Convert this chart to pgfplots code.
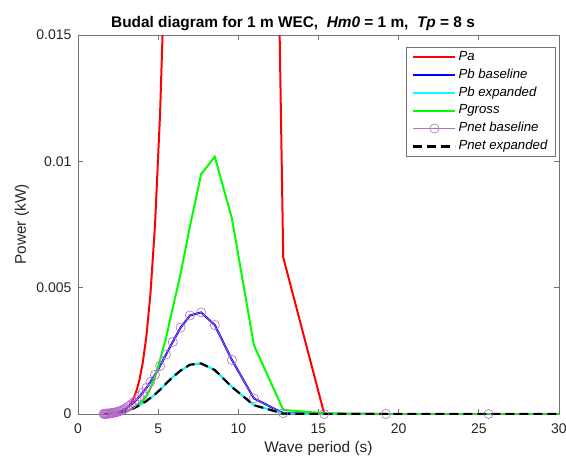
\documentclass[border=0pt]{standalone}
\usepackage{fontspec}
\setmainfont{Liberation Sans}
\usepackage{pgfplots}
\pgfplotsset{compat=1.18}
\usepackage{pgfplotstable}

\definecolor{pnetc}{rgb}{0.72,0.42,0.78}
\definecolor{axc}{rgb}{0.45,0.45,0.45}
\definecolor{cyanc}{rgb}{0,1,1}
\definecolor{greenc}{rgb}{0,1,0}
\definecolor{redc}{rgb}{1,0,0}
\definecolor{bluec}{rgb}{0,0,1}

\pgfplotstableread{
T        Pa         Pb        Pbx        Pg
1.600    0.0000008  0.000005  0.0000025  0.000002
1.634    0.000001   0.000006  0.000003   0.0000025
1.669    0.0000012  0.000007  0.0000035  0.000003
1.707    0.0000015  0.000008  0.000004   0.0000035
1.745    0.000002   0.000009  0.0000045  0.000004
1.786    0.0000025  0.000011  0.0000055  0.000005
1.829    0.000003   0.000013  0.0000065  0.000006
1.873    0.000004   0.000016  0.000008   0.000007
1.920    0.000005   0.000019  0.0000095  0.000008
1.969    0.000006   0.000022  0.000011   0.00001
2.021    0.000008   0.000026  0.000013   0.000012
2.076    0.00001    0.000031  0.0000155  0.000014
2.133    0.000013   0.000037  0.0000185  0.000016
2.194    0.000017   0.000044  0.000022   0.000018
2.259    0.000021   0.000052  0.000026   0.00002
2.327    0.000027   0.000062  0.000031   0.000022
2.400    0.000034   0.000074  0.000037   0.000024
2.477    0.000044   0.000088  0.000044   0.00003
2.560    0.000057   0.000105  0.0000525  0.000038
2.648    0.000074   0.000125  0.0000625  0.000048
2.743    0.000098   0.00015   0.000075   0.00006
2.844    0.00013    0.00018   0.00009    0.000075
2.954    0.000176   0.00022   0.00011    0.000095
3.072    0.00024    0.00027   0.000135   0.00012
3.200    0.000331   0.00032   0.00016    0.000155
3.339    0.000462   0.00039   0.000195   0.0002
3.491    0.000655   0.00047   0.000235   0.00026
3.657    0.00094    0.00057   0.000285   0.00034
3.840    0.00137    0.0007    0.00035    0.00042
4.042    0.00204    0.00085   0.000425   0.00053
4.267    0.00308    0.00103   0.000515   0.0007
4.518    0.00475    0.00127   0.000635   0.00102
4.800    0.00744    0.00155   0.000775   0.00145
5.120    0.01189    0.0019    0.00096    0.00215
5.486    0.01933    0.00235   0.0012     0.003
5.908    0.0318     0.00285   0.00146    0.0042
6.400    0.0524     0.00342   0.00172    0.00555
6.982    0.0849     0.0039    0.00195    0.00743
7.680    0.130      0.00402   0.002      0.00949
8.533    0.1731     0.00352   0.00174    0.01018
9.600    0.1677     0.00214   0.00107    0.00774
10.971   0.0784     0.00062   0.00035    0.00273
12.800   0.0062     0.00003   0.000015   0.00016
15.360   0.000004   0         0          0.00003
19.200   0          0         0          0
25.600   0          0         0          0
38.400   0          0         0          0
76.800   0          0         0          0
}\data

\begin{document}
\begin{tikzpicture}
\path[use as bounding box] (0,0) rectangle (566pt,459pt);
\begin{axis}[
  at={(78pt,45pt)}, anchor=south west,
  width=481pt, height=379pt, scale only axis,
  xmin=0, xmax=30, ymin=0, ymax=0.015,
  xtick={0,5,...,30},
  ytick={0,0.005,0.01,0.015},
  scaled y ticks=false,
  yticklabel style={/pgf/number format/fixed,/pgf/number format/precision=3, xshift=-3pt},
  xticklabel style={yshift=-6pt},
  /pgf/number format/assume math mode=true,
  ticklabel style={font=\fontsize{14}{16}\selectfont, text=black!85},
  tick align=inside,
  major tick length=5pt,
  tick style={axc, line width=0.7pt},
  axis line style={axc, line width=0.8pt},
  title={\textbf{Budal diagram for 1 m WEC,~~\textit{Hm0} = 1 m,~~\textit{Tp} = 8 s}},
  title style={font=\fontsize{15.4}{18}\selectfont, at={(axis description cs:0.447,1)}, anchor=center, yshift=5pt},
  xlabel={Wave period (s)},
  ylabel={Power (kW)},
  label style={font=\fontsize{15.4}{18}\selectfont, text=black!85},
  xlabel style={at={(axis description cs:0.5,-0.092)}, anchor=center},
  ylabel style={at={(axis description cs:-0.1164,0.5)}, anchor=center},
  legend style={at={(axis description cs:0.9931,0.9691)}, anchor=north east,
    font=\fontsize{13.2}{15}\selectfont\itshape, draw=black!55, line width=0.6pt,
    nodes={text height=9.5pt, text depth=3pt, inner ysep=2.7pt},
    inner xsep=6pt, inner ysep=1pt},
  legend cell align=left,
  legend image code/.code={\draw[mark repeat=2,mark phase=2,#1] plot coordinates {(0pt,0pt) (21pt,0pt) (42pt,0pt)};},
]
\addplot[redc, line width=2pt] table[x=T,y=Pa] {\data};
\addlegendentry{Pa}
\addplot[bluec, line width=2pt] table[x=T,y=Pb] {\data};
\addlegendentry{Pb baseline}
\addplot[cyanc, line width=2pt] table[x=T,y=Pbx] {\data};
\addlegendentry{Pb expanded}
\addplot[greenc, line width=2pt] table[x=T,y=Pg] {\data};
\addlegendentry{Pgross}
\addplot[pnetc, line width=0.6pt, mark=o, mark size=4.6pt, mark options={line width=0.6pt}] table[x=T,y=Pb] {\data};
\addlegendentry{Pnet baseline}
\addplot[black, line width=2.2pt, dash pattern=on 9pt off 5pt] table[x=T,y=Pbx] {\data};
\addlegendentry{Pnet expanded}
\end{axis}
\end{tikzpicture}
\end{document}
